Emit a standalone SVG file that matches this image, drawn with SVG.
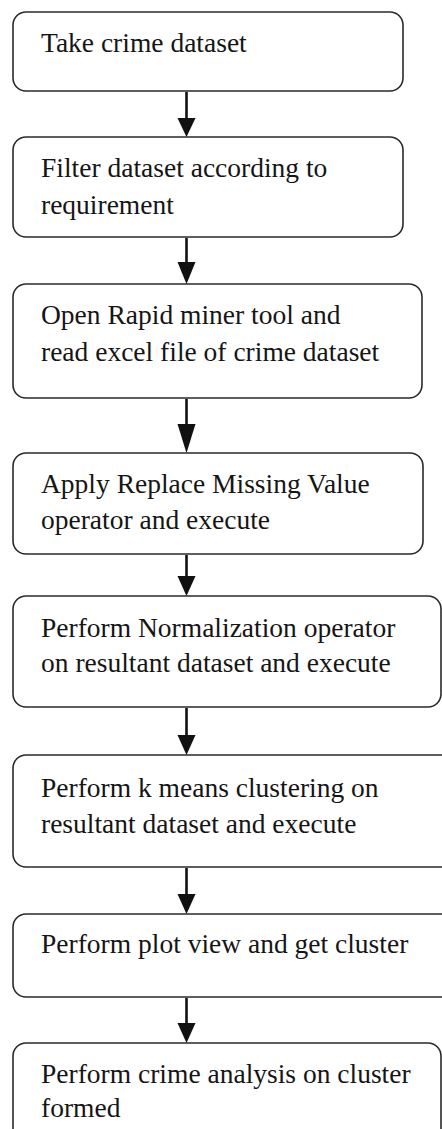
<svg xmlns="http://www.w3.org/2000/svg" width="442" height="1129" viewBox="0 0 442 1129">
<defs>
<style>
.box{fill:#fff;stroke:#2a2a2a;stroke-width:1.6}
.t{font-family:'Liberation Serif','Times New Roman',Tinos,'DejaVu Serif',serif;font-size:27.5px;fill:#151515}
.c{stroke:#111;stroke-width:2.6;fill:none}
.h{fill:#111}
</style>
</defs>
<rect width="442" height="1129" fill="#fff"/>
<g id="connectors">
<line class="c" x1="186.5" y1="92" x2="186.5" y2="120"/><polygon class="h" points="177.5,118 195.5,118 186.5,137"/>
<line class="c" x1="186.5" y1="238" x2="186.5" y2="264"/><polygon class="h" points="177.5,262 195.5,262 186.5,284"/>
<line class="c" x1="186.5" y1="399" x2="186.5" y2="426"/><polygon class="h" points="177.5,424 195.5,424 186.5,453"/>
<line class="c" x1="186.5" y1="555" x2="186.5" y2="578"/><polygon class="h" points="177.5,576 195.5,576 186.5,596"/>
<line class="c" x1="186.5" y1="708" x2="186.5" y2="737"/><polygon class="h" points="177.5,735 195.5,735 186.5,755"/>
<line class="c" x1="186.5" y1="868" x2="186.5" y2="896"/><polygon class="h" points="177.5,894 195.5,894 186.5,914"/>
<line class="c" x1="186.5" y1="998" x2="186.5" y2="1025"/><polygon class="h" points="177.5,1023 195.5,1023 186.5,1043"/>
</g>
<g id="n1"><rect class="box" x="13" y="12" width="390" height="79" rx="13"/><text class="t" x="41" y="52">Take crime dataset</text></g>
<g id="n2"><rect class="box" x="13" y="137" width="390" height="100" rx="13"/><text class="t" x="41" y="177">Filter dataset according to</text><text class="t" x="41" y="214">requirement</text></g>
<g id="n3"><rect class="box" x="13" y="284" width="409" height="114" rx="13"/><text class="t" x="41" y="324">Open Rapid miner tool and</text><text class="t" x="41" y="361">read excel file of crime dataset</text></g>
<g id="n4"><rect class="box" x="13" y="453" width="410" height="101" rx="13"/><text class="t" x="41" y="493">Apply Replace Missing Value</text><text class="t" x="41" y="529">operator and execute</text></g>
<g id="n5"><rect class="box" x="13" y="596" width="428" height="111" rx="13"/><text class="t" x="41" y="637">Perform Normalization operator</text><text class="t" x="41" y="672">on resultant dataset and execute</text></g>
<g id="n6"><rect class="box" x="13" y="755" width="445" height="112" rx="13"/><text class="t" x="41" y="797">Perform k means clustering on</text><text class="t" x="41" y="833">resultant dataset and execute</text></g>
<g id="n7"><rect class="box" x="13" y="914" width="445" height="83" rx="13"/><text class="t" x="41" y="953">Perform plot view and get cluster</text></g>
<g id="n8"><rect class="box" x="13" y="1043" width="428" height="110" rx="13"/><text class="t" x="41" y="1083">Perform crime analysis on cluster</text><text class="t" x="41" y="1117">formed</text></g>
</svg>
